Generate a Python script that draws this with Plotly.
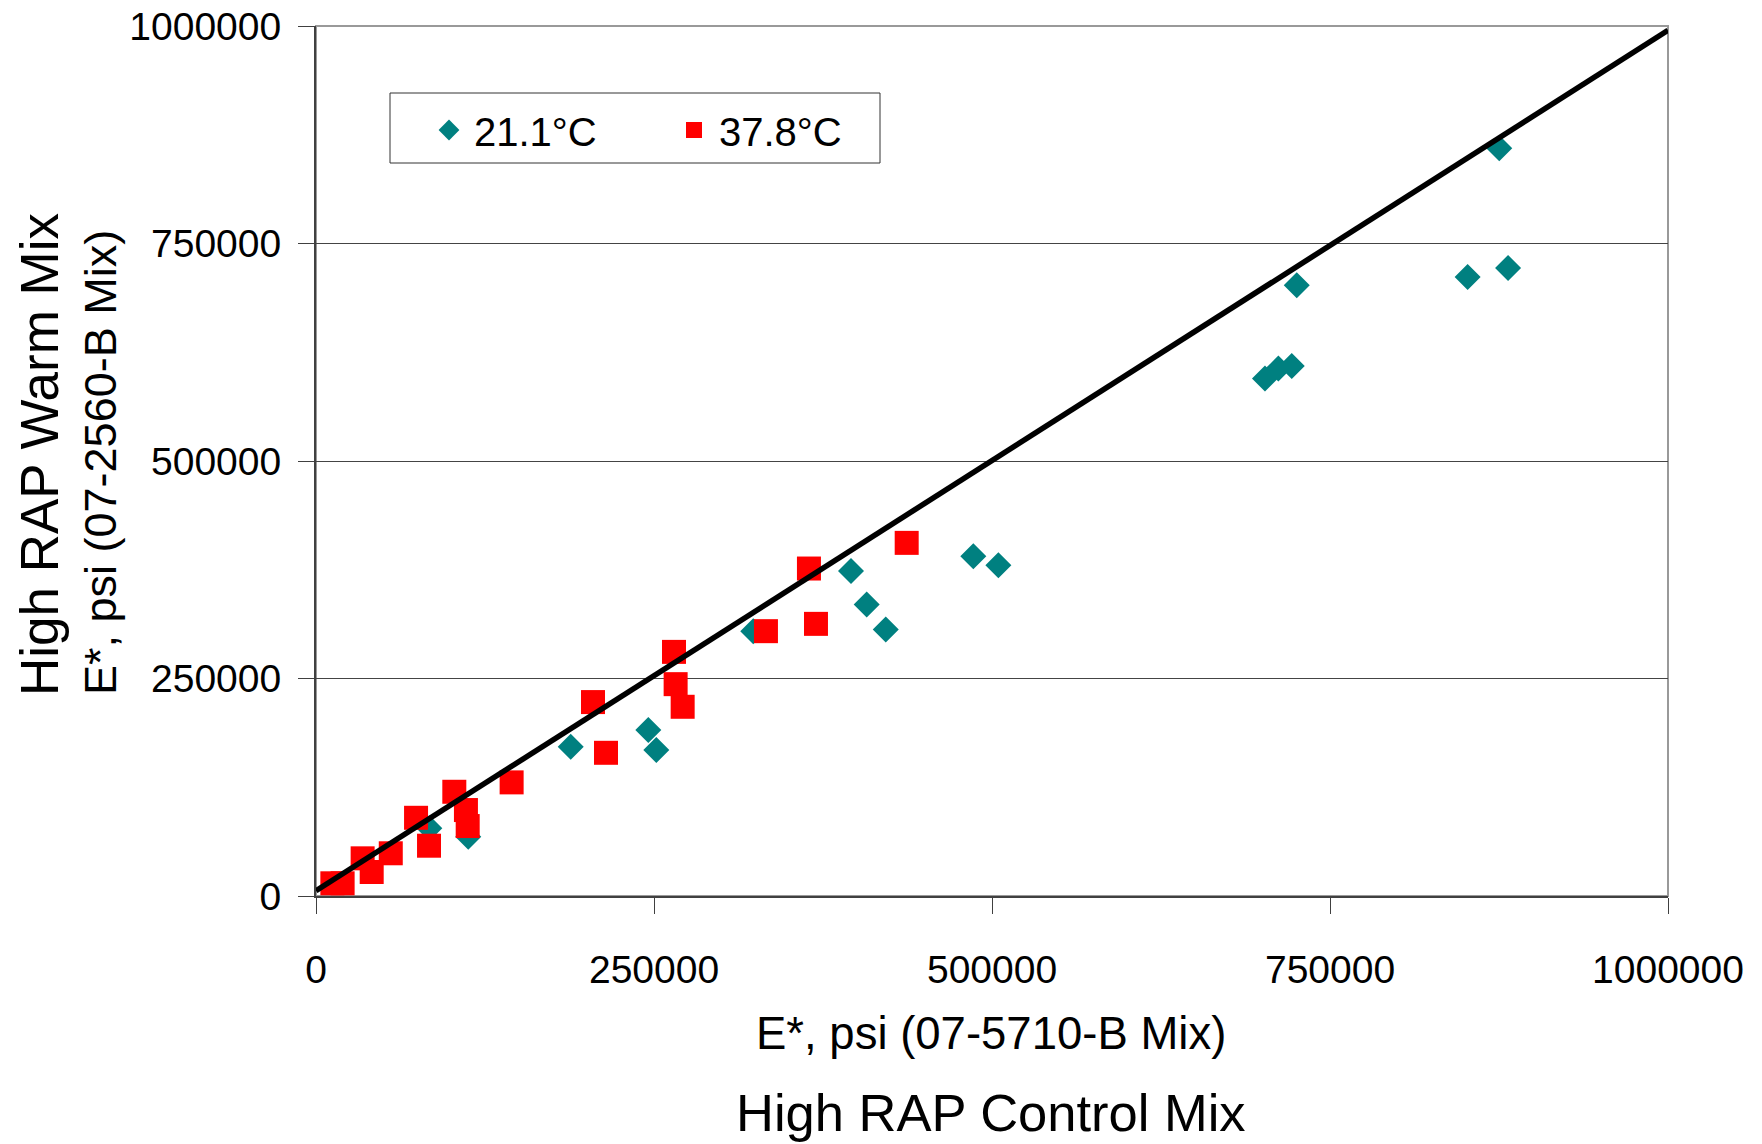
import plotly.graph_objects as go

# ---- data ----
t21_x = [875200, 851800, 881700, 725400, 701900, 711800, 721700, 486200, 504700,
         395700, 407300, 421400, 323400, 188400, 245800, 251700, 83800, 112600]
t21_y = [859600, 711400, 721800, 701900, 594700, 606200, 609200, 390600, 380200,
         373700, 335100, 306400, 304400, 171500, 190700, 167700, 77800, 68100]

t38_x = [436900, 364600, 369800, 332800, 264800, 266000, 271200, 204900, 214500,
         144700, 102300, 110900, 112200, 74000, 83600, 55300, 41200, 34500, 12100, 19700]
t38_y = [405900, 376400, 312800, 304400, 280600, 243500, 217500, 222900, 164600,
         130600, 119800, 98800, 80400, 89900, 57800, 49100, 27600, 43300, 14600, 14600]

line_x = [0, 1000000]
line_y = [6000, 995000]

tick_vals = [0, 250000, 500000, 750000, 1000000]
tick_text = ["0", "250000", "500000", "750000", "1000000"]

series_names = ["21.1°C", "37.8°C"]
x_title = "E*, psi (07-5710-B Mix)"
x_title2 = "High RAP Control Mix"
y_title1 = "High RAP Warm Mix"
y_title2 = "E*, psi (07-2560-B Mix)"

REG = "Liberation Sans, Arial, sans-serif"

W, H = 1762, 1144
L, R, T, B = 316, 94, 26, 248
PW, PH = W - L - R, H - T - B

def px_to_paper(px, py):
    return (px - L) / PW, (H - B - py) / PH

fig = go.Figure()
fig.add_trace(go.Scatter(x=t21_x, y=t21_y, mode="markers", name=series_names[0],
                         marker=dict(symbol="diamond", size=20, color="#008080",
                                     line=dict(width=0))))
fig.add_trace(go.Scatter(x=t38_x, y=t38_y, mode="markers", name=series_names[1],
                         marker=dict(symbol="square", size=24, color="#FF0000",
                                     line=dict(width=0))))
fig.add_trace(go.Scatter(x=line_x, y=line_y, mode="lines", showlegend=False,
                         line=dict(color="black", width=5.5), hoverinfo="skip"))

axis_common = dict(
    tickvals=tick_vals, ticktext=tick_text,
    tickfont=dict(family=REG, size=39, color="black"),
    ticks="outside", ticklen=16, tickwidth=1, tickcolor="#404040",
    showline=True, linecolor="#404040", linewidth=2,
    zeroline=False, ticklabeloverflow="allow", automargin=False,
)

lx, ly = px_to_paper(424, 97.5)
fig.update_layout(
    width=W, height=H,
    margin=dict(l=L, r=R, t=T, b=B, pad=0, autoexpand=False),
    paper_bgcolor="white", plot_bgcolor="white",
    showlegend=True,
    legend=dict(orientation="h", x=lx, y=ly, xanchor="left", yanchor="top",
                bgcolor="rgba(0,0,0,0)", borderwidth=0,
                font=dict(family=REG, size=40, color="black"),
                entrywidth=190, itemwidth=40, tracegroupgap=0),
    xaxis=dict(range=[0, 1000000], showgrid=False, ticklabelstandoff=22, **axis_common),
    yaxis=dict(range=[0, 1000000], showgrid=True, gridcolor="#444444", gridwidth=1,
               ticklabelstandoff=9, **axis_common),
)

# plot area border (top/right, lighter gray)
fig.add_shape(type="rect", xref="paper", yref="paper", x0=0, y0=0, x1=1, y1=1,
              line=dict(color="#999999", width=2), layer="below")
# legend box
bx0, by0 = px_to_paper(390, 163)
bx1, by1 = px_to_paper(880, 93)
fig.add_shape(type="rect", xref="paper", yref="paper", x0=bx0, y0=by0, x1=bx1, y1=by1,
              line=dict(color="#333333", width=1), fillcolor="white", layer="below")

ann = []
ax, ay = px_to_paper(991, 1033)
ann.append(dict(text=x_title, x=ax, y=ay, font=dict(family=REG, size=45.5, color="black")))
ax, ay = px_to_paper(991, 1112)
ann.append(dict(text=x_title2, x=ax, y=ay, font=dict(family=REG, size=52.5, color="black")))
ax, ay = px_to_paper(39, 455)
ann.append(dict(text=y_title1, x=ax, y=ay, textangle=-90, font=dict(family=REG, size=53, color="black")))
ax, ay = px_to_paper(101, 463)
ann.append(dict(text=y_title2, x=ax, y=ay, textangle=-90, font=dict(family=REG, size=45, color="black")))
for a in ann:
    fig.add_annotation(xref="paper", yref="paper", xanchor="center", yanchor="middle",
                       showarrow=False, **a)

fig.write_html("out.html")
